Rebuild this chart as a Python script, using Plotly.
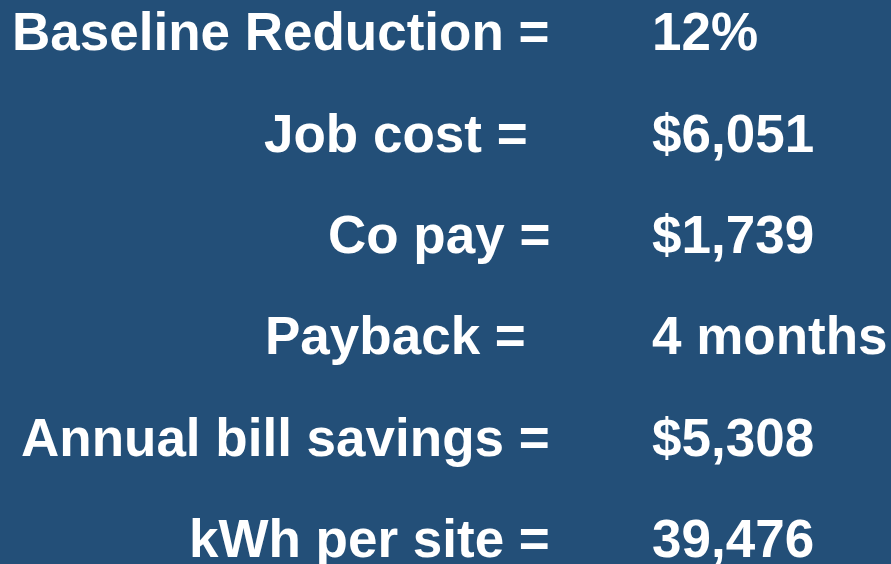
import plotly.graph_objects as go

labels = ["Baseline Reduction =", "Job cost =", "Co pay =", "Payback =",
          "Annual bill savings =", "kWh per site ="]
values = ["12%", "$6,051", "$1,739", "4 months", "$5,308", "39,476"]
rows = list(range(len(labels)))

# some labels in the original sit a bit left of the rest (tab stops)
label_shift = {1: -22, 3: -24}

fig = go.Figure()
fig.add_trace(go.Scatter(x=[0], y=[0], mode="markers", marker_opacity=0,
                         hoverinfo="skip", showlegend=False))

font = dict(family="Liberation Sans, Arial, sans-serif", size=53, color="white")
for i in rows:
    fig.add_annotation(x=552, y=i, text="<b>%s</b>" % labels[i], showarrow=False,
                       xanchor="right", yanchor="middle", font=font,
                       xshift=label_shift.get(i, 0))
    fig.add_annotation(x=650, y=i, text="<b>%s</b>" % values[i], showarrow=False,
                       xanchor="left", yanchor="middle", font=font)

fig.update_xaxes(range=[0, 891], visible=False, fixedrange=True)
fig.update_yaxes(range=[5.25, -0.315], visible=False, fixedrange=True)
fig.update_layout(
    width=891, height=564,
    margin=dict(l=0, r=0, t=0, b=0),
    paper_bgcolor="#234F78",
    plot_bgcolor="#234F78",
)
fig.write_html("out.html", config={"displayModeBar": False},
               post_script="document.body.style.margin='0';"
                           "document.body.style.background='#234F78';")
